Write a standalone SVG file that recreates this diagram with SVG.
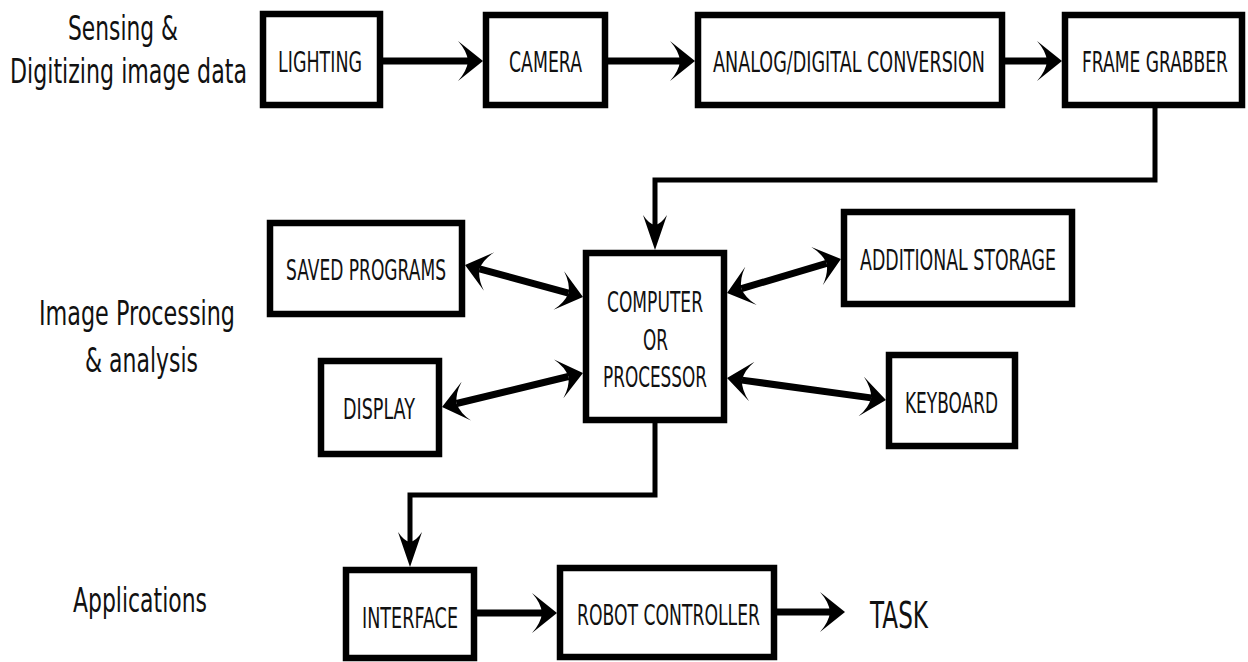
<svg xmlns="http://www.w3.org/2000/svg" width="1248" height="662" viewBox="0 0 1248 662">
  <style>
    .box { fill: #fff; stroke: #000; stroke-width: 6.5; }
    /* labels use a small font stretched vertically, then fitted to width */
    .lbl { font-family: "DejaVu Sans", "Liberation Sans", sans-serif; font-size: 16px; fill: #111; }
    .side { font-family: "DejaVu Sans", "Liberation Sans", sans-serif; font-size: 22px; fill: #111; }
    .task { font-family: "DejaVu Sans", "Liberation Sans", sans-serif; font-size: 20px; fill: #111; }
    .thick { fill: none; stroke: #000; stroke-width: 7; }
    .thin { fill: none; stroke: #000; stroke-width: 5; stroke-linejoin: miter; }
  </style>
  <defs>
    <!-- notched arrowhead; origin sits at the notch, tip points along +x -->
    <marker id="ah" markerUnits="userSpaceOnUse" refX="0" refY="0" markerWidth="40" markerHeight="44" orient="auto-start-reverse" style="overflow:visible">
      <path d="M15,0 L-10,-20 Q-1,-10 0,0 Q-1,10 -10,20 Z" fill="#000"/>
    </marker>
    <marker id="av" markerUnits="userSpaceOnUse" refX="0" refY="0" markerWidth="40" markerHeight="30" orient="auto" style="overflow:visible">
      <path d="M25,0 L-10,-12 Q-1,-6 0,0 Q-1,6 -10,12 Z" fill="#000"/>
    </marker>
  </defs>

  <!-- stage labels -->
  <g id="stage-labels">
    <text class="side" transform="translate(68,40) scale(1,1.5)" textLength="110" lengthAdjust="spacingAndGlyphs">Sensing &amp;</text>
    <text class="side" transform="translate(10,83) scale(1,1.5)" textLength="237" lengthAdjust="spacingAndGlyphs">Digitizing image data</text>
    <text class="side" transform="translate(39,325) scale(1,1.5)" textLength="196" lengthAdjust="spacingAndGlyphs">Image Processing</text>
    <text class="side" transform="translate(85,372) scale(1,1.5)" textLength="113" lengthAdjust="spacingAndGlyphs">&amp; analysis</text>
    <text class="side" transform="translate(73,612) scale(1,1.5)" textLength="134" lengthAdjust="spacingAndGlyphs">Applications</text>
  </g>

  <!-- connectors -->
  <g id="connectors">
    <line class="thick" x1="383" y1="61" x2="468" y2="61" marker-end="url(#ah)"/>
    <line class="thick" x1="608" y1="61" x2="680" y2="61" marker-end="url(#ah)"/>
    <line class="thick" x1="1005" y1="61" x2="1047" y2="61" marker-end="url(#ah)"/>
    <polyline class="thin" points="1155,108 1155,180 655,180 655,225" marker-end="url(#av)"/>
    <line class="thick" x1="479.5" y1="268.9" x2="568.5" y2="293.1" marker-start="url(#ah)" marker-end="url(#ah)"/>
    <line class="thick" x1="456.6" y1="403.5" x2="568.4" y2="376.5" marker-start="url(#ah)" marker-end="url(#ah)"/>
    <line class="thick" x1="741.4" y1="288.7" x2="826.6" y2="263.3" marker-start="url(#ah)" marker-end="url(#ah)"/>
    <line class="thick" x1="741.9" y1="380.1" x2="871.1" y2="397.9" marker-start="url(#ah)" marker-end="url(#ah)"/>
    <polyline class="thin" points="655,423 655,495 410,495 410,542" marker-end="url(#av)"/>
    <line class="thick" x1="477" y1="613" x2="542" y2="613" marker-end="url(#ah)"/>
    <line class="thick" x1="777" y1="612" x2="830" y2="612" marker-end="url(#ah)"/>
  </g>

  <!-- sensing & digitizing -->
  <g id="lighting">
    <rect class="box" x="263" y="14" width="117" height="91"/>
    <text class="lbl" transform="translate(278,72) scale(1,1.75)" textLength="84" lengthAdjust="spacingAndGlyphs">LIGHTING</text>
  </g>
  <g id="camera">
    <rect class="box" x="486" y="15" width="119" height="90"/>
    <text class="lbl" transform="translate(509,72) scale(1,1.75)" textLength="73" lengthAdjust="spacingAndGlyphs">CAMERA</text>
  </g>
  <g id="adc">
    <rect class="box" x="698" y="15" width="304" height="90"/>
    <text class="lbl" transform="translate(713,72) scale(1,1.75)" textLength="272" lengthAdjust="spacingAndGlyphs">ANALOG/DIGITAL CONVERSION</text>
  </g>
  <g id="frame-grabber">
    <rect class="box" x="1065" y="15" width="177" height="90"/>
    <text class="lbl" transform="translate(1082,72) scale(1,1.75)" textLength="146" lengthAdjust="spacingAndGlyphs">FRAME GRABBER</text>
  </g>

  <!-- processing & analysis -->
  <g id="computer">
    <rect class="box" x="586" y="253" width="138" height="167"/>
    <text class="lbl" transform="translate(607,312) scale(1,1.75)" textLength="96" lengthAdjust="spacingAndGlyphs">COMPUTER</text>
    <text class="lbl" transform="translate(643,350) scale(1,1.75)" textLength="25" lengthAdjust="spacingAndGlyphs">OR</text>
    <text class="lbl" transform="translate(603,387) scale(1,1.75)" textLength="104" lengthAdjust="spacingAndGlyphs">PROCESSOR</text>
  </g>
  <g id="saved-programs">
    <rect class="box" x="270" y="223" width="192" height="91"/>
    <text class="lbl" transform="translate(286,280) scale(1,1.75)" textLength="160" lengthAdjust="spacingAndGlyphs">SAVED PROGRAMS</text>
  </g>
  <g id="display">
    <rect class="box" x="321" y="361" width="118" height="93"/>
    <text class="lbl" transform="translate(343,419) scale(1,1.75)" textLength="72" lengthAdjust="spacingAndGlyphs">DISPLAY</text>
  </g>
  <g id="additional-storage">
    <rect class="box" x="844" y="212" width="228" height="92"/>
    <text class="lbl" transform="translate(860,270) scale(1,1.75)" textLength="196" lengthAdjust="spacingAndGlyphs">ADDITIONAL STORAGE</text>
  </g>
  <g id="keyboard">
    <rect class="box" x="889" y="355" width="126" height="91"/>
    <text class="lbl" transform="translate(905,413) scale(1,1.75)" textLength="93" lengthAdjust="spacingAndGlyphs">KEYBOARD</text>
  </g>

  <!-- applications -->
  <g id="interface">
    <rect class="box" x="346" y="570" width="128" height="88"/>
    <text class="lbl" transform="translate(362,628) scale(1,1.75)" textLength="96" lengthAdjust="spacingAndGlyphs">INTERFACE</text>
  </g>
  <g id="robot-controller">
    <rect class="box" x="560" y="568" width="214" height="89"/>
    <text class="lbl" transform="translate(577,625) scale(1,1.75)" textLength="183" lengthAdjust="spacingAndGlyphs">ROBOT CONTROLLER</text>
  </g>
  <g id="task">
    <text class="task" transform="translate(870,628) scale(1,1.9)" textLength="58" lengthAdjust="spacingAndGlyphs">TASK</text>
  </g>
</svg>
